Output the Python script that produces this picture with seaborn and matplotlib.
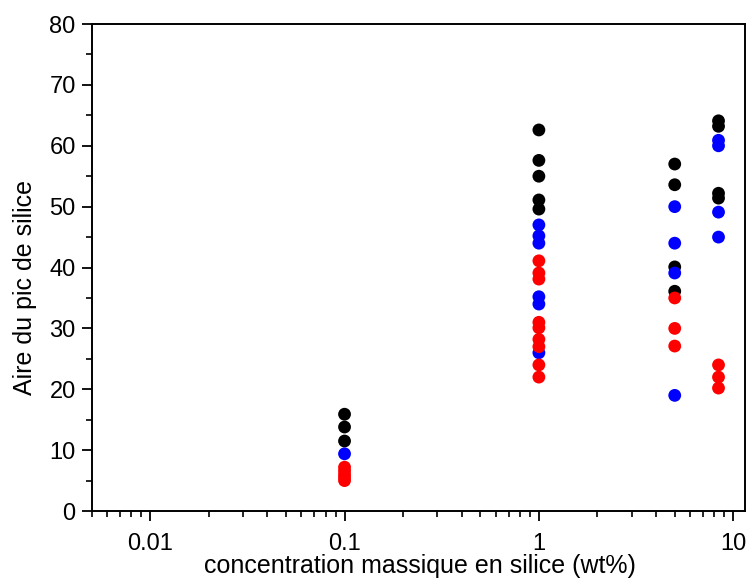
import matplotlib
matplotlib.use("Agg")
import matplotlib.pyplot as plt
from matplotlib.ticker import LogLocator, FixedLocator, MultipleLocator, FuncFormatter
import seaborn as sns
import pandas as pd

# Concentration massique (wt%) et aire du pic pour chaque série de mesures
conc_serie1 = [0.1, 0.1, 0.1, 1, 1, 1, 1, 1, 5, 5, 5, 5, 8.4, 8.4, 8.4, 8.4]
aire_serie1 = [15.9, 13.8, 11.5, 62.6, 57.6, 55.0, 51.1, 49.6, 57.0, 53.6, 40.1, 36.1, 64.1, 63.2, 52.2, 51.4]

conc_serie2 = [0.1, 1, 1, 1, 1, 1, 1, 5, 5, 5, 5, 8.4, 8.4, 8.4, 8.4]
aire_serie2 = [9.4, 47.0, 45.2, 44.0, 35.2, 34.0, 26.0, 50.0, 44.0, 39.1, 19.0, 60.9, 60.0, 49.1, 45.0]

conc_serie3 = [0.1, 0.1, 0.1, 0.1, 0.1, 1, 1, 1, 1, 1, 1, 1, 1, 1, 5, 5, 5, 8.4, 8.4, 8.4]
aire_serie3 = [7.2, 6.6, 6.0, 5.5, 5.0, 41.1, 39.1, 38.1, 31.0, 30.1, 28.2, 27.0, 24.0, 22.0, 35.0, 30.0, 27.1, 24.0, 22.0, 20.2]

series = ["série 1", "série 2", "série 3"]
couleurs = ["#000000", "#0000FF", "#FF0000"]

df = pd.concat([
    pd.DataFrame({"conc": conc_serie1, "aire": aire_serie1, "serie": series[0]}),
    pd.DataFrame({"conc": conc_serie2, "aire": aire_serie2, "serie": series[1]}),
    pd.DataFrame({"conc": conc_serie3, "aire": aire_serie3, "serie": series[2]}),
], ignore_index=True)

sns.set_theme(style="ticks")
plt.rcParams["font.family"] = ["Liberation Sans", "DejaVu Sans"]
plt.rcParams["text.color"] = "black"
plt.rcParams["axes.labelcolor"] = "black"

fig = plt.figure(figsize=(7.46, 5.79), dpi=100)
ax = fig.add_axes([0.1229, 0.1174, 0.8758, 0.8411])

sns.scatterplot(data=df, x="conc", y="aire", hue="serie", hue_order=series,
                palette=couleurs, s=85, linewidth=0, legend=False, ax=ax)

ax.set_xscale("log")
ax.set_xlim(0.005, 11.5)
ax.set_ylim(0, 80)

ax.xaxis.set_major_locator(FixedLocator([0.01, 0.1, 1, 10]))
ax.xaxis.set_major_formatter(FuncFormatter(lambda v, p: f"{v:g}"))
ax.xaxis.set_minor_locator(LogLocator(base=10, subs=range(2, 10)))
ax.xaxis.set_minor_formatter(FuncFormatter(lambda v, p: ""))
ax.yaxis.set_major_locator(MultipleLocator(10))
ax.yaxis.set_minor_locator(MultipleLocator(5))

ax.tick_params(which="major", direction="out", length=7.5, width=1.3,
               labelsize=17, color="black", labelcolor="black")
ax.tick_params(which="minor", direction="out", length=4.3, width=1.2, color="black")
ax.tick_params(axis="x", which="major", pad=8)
ax.tick_params(axis="y", which="major", pad=4)
ax.tick_params(top=False, right=False, which="both")

for sp in ax.spines.values():
    sp.set_linewidth(1.4)
    sp.set_color("black")

ax.set_xlabel("concentration massique en silice (wt%)", fontsize=18, color="black")
ax.set_ylabel("Aire du pic de silice", fontsize=18, color="black")
ax.xaxis.label.set_va("center")
ax.yaxis.label.set_va("center")
ax.xaxis.set_label_coords(0.5 - (91.7 + 653.3 / 2 - 420) / 653.3, -0.113)
ax.yaxis.set_label_coords(-0.102, 0.5 - (287 - 267.5) / 487)

fig.savefig("out.png", dpi=100)
